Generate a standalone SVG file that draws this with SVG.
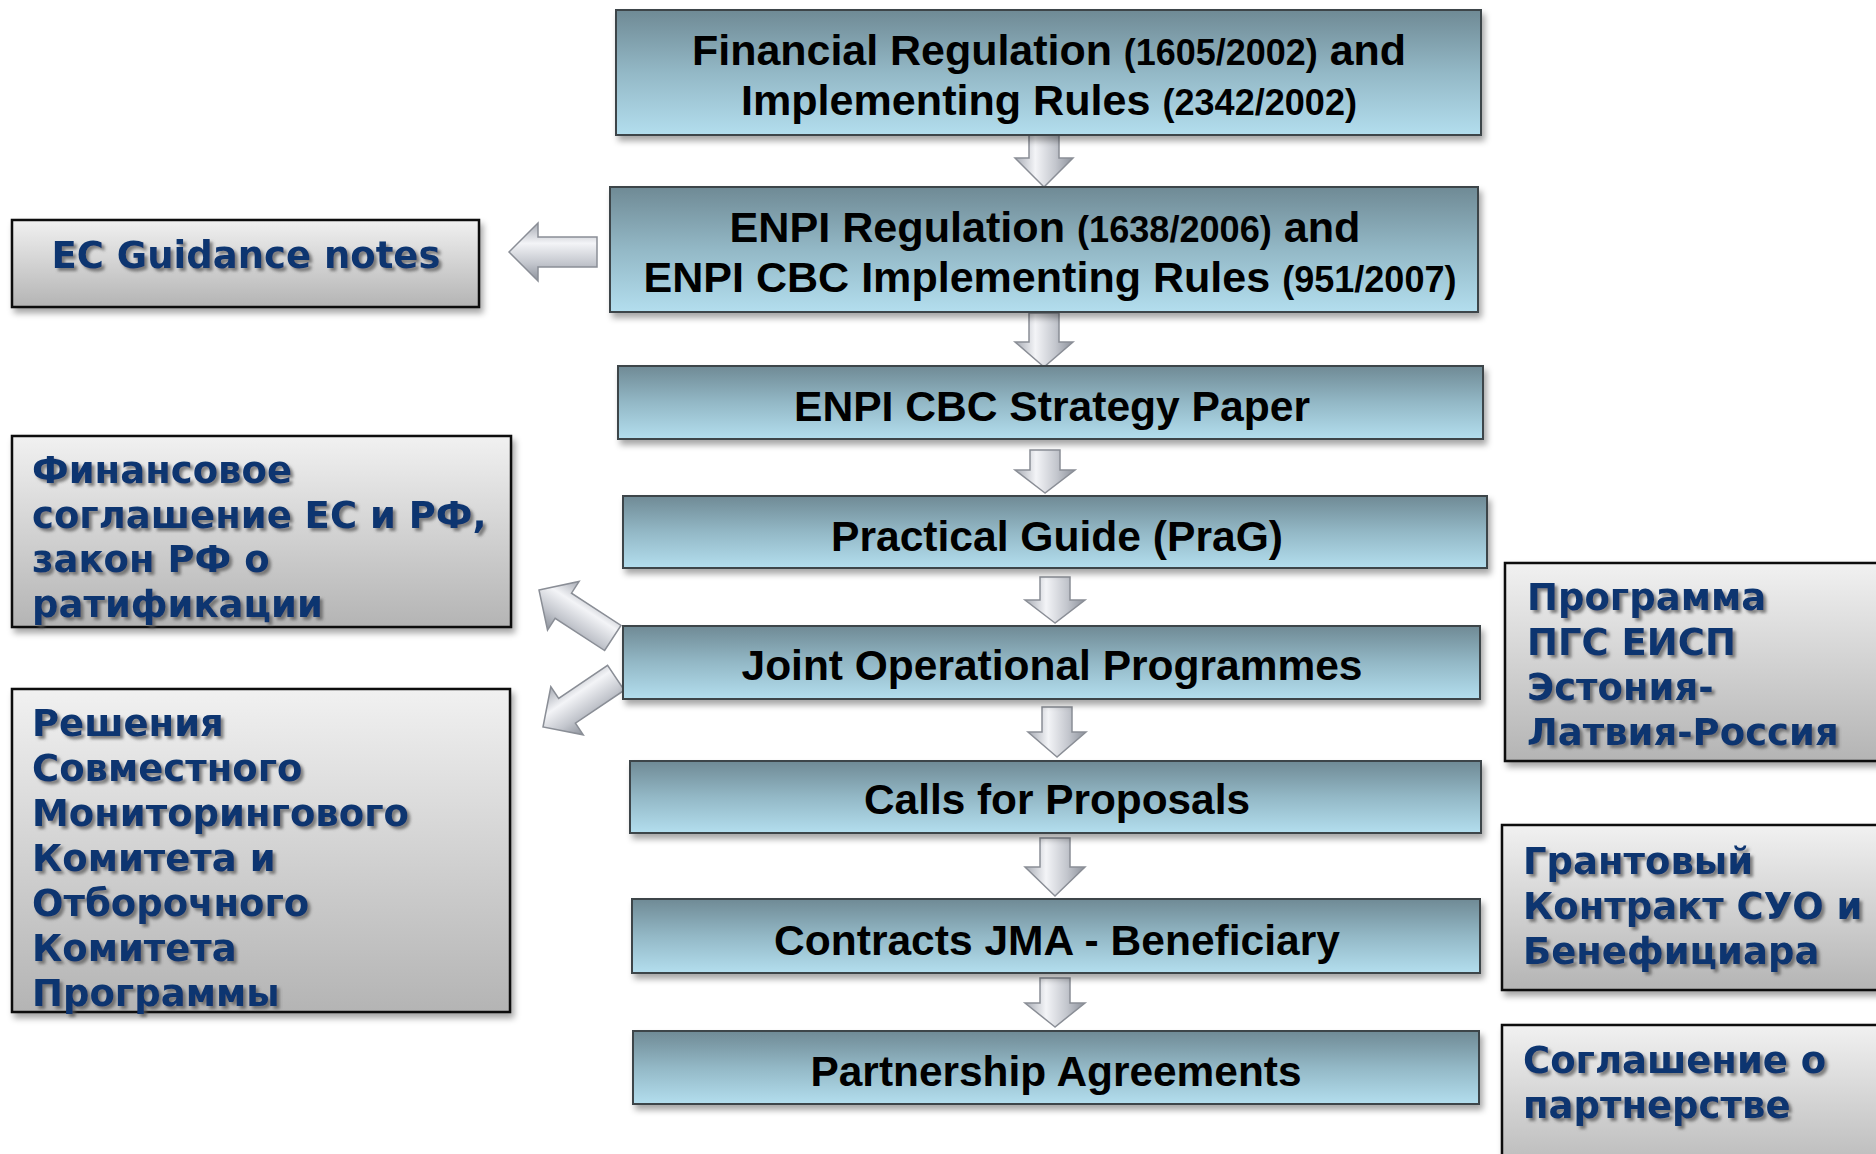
<svg xmlns="http://www.w3.org/2000/svg" width="1876" height="1154" viewBox="0 0 1876 1154">
<defs>
<linearGradient id="gBlue" x1="0" y1="0" x2="0" y2="1">
<stop offset="0" stop-color="#6f8a95"/>
<stop offset="0.5" stop-color="#93b8c6"/>
<stop offset="1" stop-color="#b3deee"/>
</linearGradient>
<linearGradient id="gGray" x1="0" y1="0" x2="0" y2="1">
<stop offset="0" stop-color="#f1f1f1"/>
<stop offset="1" stop-color="#b4b4b4"/>
</linearGradient>
<linearGradient id="gArrow" x1="0" y1="0" x2="0" y2="1">
<stop offset="0" stop-color="#a6aab3"/>
<stop offset="0.35" stop-color="#f3f4f7"/>
<stop offset="0.7" stop-color="#c3c6cd"/>
<stop offset="1" stop-color="#8c919b"/>
</linearGradient>
<filter id="shadow" x="-5%" y="-10%" width="115%" height="130%">
<feDropShadow dx="3" dy="5" stdDeviation="3" flood-color="#000" flood-opacity="0.35"/>
</filter>
<filter id="tshadow" x="-5%" y="-20%" width="115%" height="150%">
<feDropShadow dx="3" dy="3" stdDeviation="1.5" flood-color="#555" flood-opacity="0.7"/>
</filter>
<style>
.bluebox{fill:url(#gBlue);stroke:#3e4448;stroke-width:2;filter:url(#shadow)}
.graybox{fill:url(#gGray);stroke:#111;stroke-width:2.5;filter:url(#shadow)}
.mt{font-family:"Liberation Sans",Arial,sans-serif;font-weight:bold;font-size:43px;fill:#000;text-anchor:middle}
.sm{font-size:36px}
.rt{font-family:"DejaVu Sans",Verdana,sans-serif;font-weight:bold;font-size:37px;fill:#0b3470;filter:url(#tshadow)}
.arrow{fill:url(#gArrow);stroke:#8a8e96;stroke-width:1.5}
</style>
</defs>
<rect width="1876" height="1154" fill="#ffffff"/>

<g id="connectors">
<path class="arrow" transform="translate(1044,187) rotate(-90)" d="M0,0 L29,-29 L29,-15 L60,-15 L60,15 L29,15 L29,29 Z"/>
<path class="arrow" transform="translate(1044,367) rotate(-90)" d="M0,0 L25,-29 L25,-15 L54,-15 L54,15 L25,15 L25,29 Z"/>
<path class="arrow" transform="translate(1045,493) rotate(-90)" d="M0,0 L23,-30 L23,-15 L43,-15 L43,15 L23,15 L23,30 Z"/>
<path class="arrow" transform="translate(1055,623) rotate(-90)" d="M0,0 L23,-30 L23,-15 L46,-15 L46,15 L23,15 L23,30 Z"/>
<path class="arrow" transform="translate(1057,757) rotate(-90)" d="M0,0 L25,-29 L25,-15 L50,-15 L50,15 L25,15 L25,29 Z"/>
<path class="arrow" transform="translate(1055,896) rotate(-90)" d="M0,0 L29,-30 L29,-15 L58,-15 L58,15 L29,15 L29,30 Z"/>
<path class="arrow" transform="translate(1055,1027) rotate(-90)" d="M0,0 L24,-30 L24,-15 L49,-15 L49,15 L24,15 L24,30 Z"/>
<path class="arrow" transform="translate(509,252)" d="M0,0 L29,-29 L29,-15 L88,-15 L88,15 L29,15 L29,29 Z"/>
<path class="arrow" transform="translate(539,590) rotate(33)" d="M0,0 L29,-29 L29,-15 L88,-15 L88,15 L29,15 L29,29 Z"/>
<path class="arrow" transform="translate(543,727) rotate(-34)" d="M0,0 L29,-29 L29,-15 L88,-15 L88,15 L29,15 L29,29 Z"/>
</g>

<g id="financial-regulation">
<rect class="bluebox" x="616" y="10" width="865" height="125"/>
<text class="mt" x="1049" y="65" textLength="714" lengthAdjust="spacingAndGlyphs">Financial Regulation <tspan class="sm">(1605/2002)</tspan> and</text>
<text class="mt" x="1049" y="115" textLength="616" lengthAdjust="spacingAndGlyphs">Implementing Rules <tspan class="sm">(2342/2002)</tspan></text>
</g>

<g id="enpi-regulation">
<rect class="bluebox" x="610" y="187" width="868" height="125"/>
<text class="mt" x="1045" y="242" textLength="631" lengthAdjust="spacingAndGlyphs">ENPI Regulation <tspan class="sm">(1638/2006)</tspan> and</text>
<text class="mt" x="1050" y="292" textLength="813" lengthAdjust="spacingAndGlyphs">ENPI CBC Implementing Rules <tspan class="sm">(951/2007)</tspan></text>
</g>

<g id="strategy-paper">
<rect class="bluebox" x="618" y="366" width="865" height="73"/>
<text class="mt" x="1052" y="421" textLength="516" lengthAdjust="spacingAndGlyphs">ENPI CBC Strategy Paper</text>
</g>

<g id="practical-guide">
<rect class="bluebox" x="623" y="496" width="864" height="72"/>
<text class="mt" x="1057" y="551" textLength="452" lengthAdjust="spacingAndGlyphs">Practical Guide (PraG)</text>
</g>

<g id="joint-operational-programmes">
<rect class="bluebox" x="623" y="626" width="857" height="73"/>
<text class="mt" x="1052" y="680" textLength="621" lengthAdjust="spacingAndGlyphs">Joint Operational Programmes</text>
</g>

<g id="calls-for-proposals">
<rect class="bluebox" x="630" y="761" width="851" height="72"/>
<text class="mt" x="1057" y="814" textLength="386" lengthAdjust="spacingAndGlyphs">Calls for Proposals</text>
</g>

<g id="contracts">
<rect class="bluebox" x="632" y="899" width="848" height="74"/>
<text class="mt" x="1057" y="955" textLength="566" lengthAdjust="spacingAndGlyphs">Contracts JMA - Beneficiary</text>
</g>

<g id="partnership-agreements">
<rect class="bluebox" x="633" y="1031" width="846" height="73"/>
<text class="mt" x="1056" y="1086" textLength="491" lengthAdjust="spacingAndGlyphs">Partnership Agreements</text>
</g>

<g id="ec-guidance-notes">
<rect class="graybox" x="12" y="220" width="467" height="87"/>
<text class="rt" x="246" y="268" text-anchor="middle">EC Guidance notes</text>
</g>

<g id="financing-agreement">
<rect class="graybox" x="12" y="436" width="499" height="191"/>
<text class="rt" x="32" y="483">Финансовое</text>
<text class="rt" x="32" y="528">соглашение ЕС и РФ,</text>
<text class="rt" x="32" y="572">закон РФ о</text>
<text class="rt" x="32" y="617">ратификации</text>
</g>

<g id="committee-decisions">
<rect class="graybox" x="12" y="689" width="498" height="323"/>
<text class="rt" x="32" y="736">Решения</text>
<text class="rt" x="32" y="781">Совместного</text>
<text class="rt" x="32" y="826">Мониторингового</text>
<text class="rt" x="32" y="871">Комитета и</text>
<text class="rt" x="32" y="916">Отборочного</text>
<text class="rt" x="32" y="961">Комитета</text>
<text class="rt" x="32" y="1006">Программы</text>
</g>

<g id="programme-est-lat-rus">
<rect class="graybox" x="1505" y="563" width="400" height="198"/>
<text class="rt" x="1527" y="610">Программа</text>
<text class="rt" x="1527" y="655">ПГС ЕИСП</text>
<text class="rt" x="1527" y="700">Эстония-</text>
<text class="rt" x="1527" y="745">Латвия-Россия</text>
</g>

<g id="grant-contract">
<rect class="graybox" x="1502" y="825" width="400" height="165"/>
<text class="rt" x="1523" y="874">Грантовый</text>
<text class="rt" x="1523" y="919">Контракт СУО и</text>
<text class="rt" x="1523" y="964">Бенефициара</text>
</g>

<g id="partnership-agreement-ru">
<rect class="graybox" x="1502" y="1025" width="400" height="160"/>
<text class="rt" x="1523" y="1073">Соглашение о</text>
<text class="rt" x="1523" y="1118">партнерстве</text>
</g>
</svg>
